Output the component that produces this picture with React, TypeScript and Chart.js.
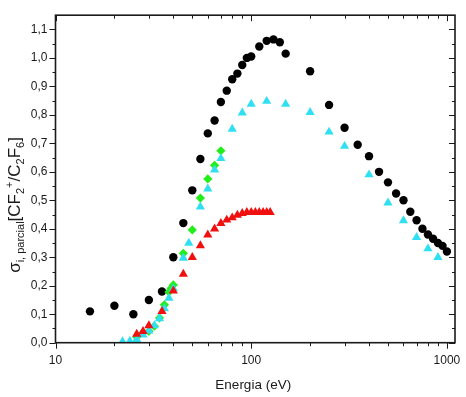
import { useEffect, useRef } from 'react';
import { Chart, registerables } from 'chart.js';

Chart.register(...registerables);

// Partial ionisation cross-section ratio CF2+ / C2F6 versus electron energy
const blackEnergy = [15, 20, 25, 30, 35, 40, 45, 50, 55, 60, 65, 70, 75, 80, 85, 90, 95, 100, 110, 120, 130, 140, 150, 200, 250, 300, 350, 400, 450, 500, 550, 600, 650, 700, 750, 800, 850, 900, 950, 1000];
const blackValue = [0.11, 0.13, 0.10, 0.15, 0.18, 0.30, 0.42, 0.535, 0.645, 0.735, 0.78, 0.845, 0.885, 0.925, 0.945, 0.975, 1.0, 1.005, 1.04, 1.06, 1.065, 1.055, 1.015, 0.953, 0.835, 0.755, 0.695, 0.655, 0.60, 0.563, 0.524, 0.50, 0.46, 0.43, 0.40, 0.38, 0.365, 0.35, 0.34, 0.32];

const cyanEnergy = [22, 24, 26, 28, 30, 32, 34, 36, 38, 40, 45, 48, 55, 60, 65, 70, 80, 90, 100, 120, 150, 200, 250, 300, 400, 500, 600, 700, 800, 900];
const cyanValue = [0.004, 0.006, 0.012, 0.028, 0.042, 0.06, 0.085, 0.12, 0.157, 0.19, 0.297, 0.35, 0.477, 0.54, 0.607, 0.647, 0.75, 0.807, 0.838, 0.848, 0.838, 0.809, 0.74, 0.69, 0.59, 0.491, 0.429, 0.37, 0.33, 0.30];

const greenEnergy = [26, 28, 30, 32, 34, 36, 38, 39, 40, 45, 50, 55, 60, 65, 70];
const greenValue = [0.02, 0.035, 0.04, 0.058, 0.087, 0.133, 0.178, 0.191, 0.203, 0.314, 0.396, 0.508, 0.575, 0.623, 0.674];

const redEnergy = [26, 28, 30, 35, 40, 45, 50, 55, 60, 65, 70, 75, 80, 85, 90, 95, 100, 105, 110, 115, 120, 125];
const redValue = [0.03, 0.04, 0.06, 0.11, 0.182, 0.241, 0.30, 0.341, 0.379, 0.40, 0.419, 0.431, 0.439, 0.448, 0.454, 0.458, 0.458, 0.458, 0.458, 0.458, 0.458, 0.458];

const xLabels = [10, 100, 1000];
const xTitle = 'Energia (eV)';

const FONT = "'Liberation Sans', Arial, sans-serif";

const toPoints = (xs: number[], ys: number[]) => xs.map((x, i) => ({ x, y: ys[i] }));

// Box frame plus Origin-style tick marks (outward on bottom/left, inward on top/right)
const frameTicks = {
  id: 'frameTicks',
  afterDatasetsDraw(chart: any) {
    const { ctx, chartArea: a, scales } = chart;
    const xs = scales.x;
    const ys = scales.y;
    ctx.save();
    ctx.strokeStyle = '#1a1a1a';
    ctx.lineWidth = 1;
    ctx.beginPath();
    for (const t of xs.ticks) {
      const v = t.value;
      const p = Math.pow(10, Math.floor(Math.log10(v) + 1e-9));
      const m = v / p;
      if (Math.abs(m - Math.round(m)) > 1e-6 || v > 1000.0001) continue;
      const major = Math.abs(m - 1) < 1e-6;
      const len = major ? 6 : 3.5;
      const px = Math.round(xs.getPixelForValue(v)) + 0.5;
      ctx.moveTo(px, a.bottom);
      ctx.lineTo(px, a.bottom + len);
      ctx.moveTo(px, a.top);
      ctx.lineTo(px, a.top + len);
    }
    for (const t of ys.ticks) {
      const v = t.value;
      const k = Math.round(v * 100);
      if (k > 110) continue;
      const major = k % 10 === 0;
      const len = major ? 6 : 3;
      const py = Math.round(ys.getPixelForValue(v)) + 0.5;
      ctx.moveTo(a.left - len, py);
      ctx.lineTo(a.left, py);
      ctx.moveTo(a.right - len, py);
      ctx.lineTo(a.right, py);
    }
    ctx.stroke();
    ctx.lineWidth = 1.6;
    ctx.strokeRect(a.left, a.top, a.right - a.left, a.bottom - a.top);
    ctx.restore();
  },
};

// Axis titles: plain x title and a rotated y title with sub- and superscripts
const axisTitles = {
  id: 'axisTitles',
  afterDraw(chart: any) {
    const { ctx, chartArea: a } = chart;
    ctx.save();
    ctx.fillStyle = '#1a1a1a';
    ctx.font = `13.5px ${FONT}`;
    ctx.textAlign = 'center';
    ctx.textBaseline = 'middle';
    ctx.fillText(xTitle, (a.left + a.right) / 2 - 2, 385);
    ctx.restore();

    const big = 17;
    const small = 11;
    const parts = [
      { t: 'σ', s: big, dy: 0 },
      { t: 'i, parcial', s: small, dy: 4 },
      { t: '[CF', s: big, dy: 0 },
      { t: '2', s: small, dy: 4 },
      { t: '+', s: small, dy: -7 },
      { t: '/C', s: big, dy: 0 },
      { t: '2', s: small, dy: 4 },
      { t: 'F', s: big, dy: 0 },
      { t: '6', s: small, dy: 4 },
      { t: ']', s: big, dy: 0 },
    ];
    ctx.save();
    let total = 0;
    for (const p of parts) {
      ctx.font = `${p.s}px ${FONT}`;
      total += ctx.measureText(p.t).width;
    }
    ctx.translate(19.5, 205);
    ctx.rotate(-Math.PI / 2);
    ctx.fillStyle = '#1a1a1a';
    ctx.textBaseline = 'alphabetic';
    ctx.textAlign = 'left';
    let x = -total / 2;
    for (const p of parts) {
      ctx.font = `${p.s}px ${FONT}`;
      ctx.fillText(p.t, x, p.dy);
      x += ctx.measureText(p.t).width;
    }
    ctx.restore();
  },
};

export default function App() {
  const canvasRef = useRef<HTMLCanvasElement | null>(null);

  useEffect(() => {
    const canvas = canvasRef.current;
    if (!canvas) return;
    const W = 466;
    const H = 397;
    const plotLeft = 55.5;
    const plotRight = 460.7;
    const plotTop = 9.3;
    const plotBottom = 342.7;

    const chart = new Chart(canvas, {
      type: 'scatter',
      data: {
        datasets: [
          {
            label: 'red',
            data: toPoints(redEnergy, redValue),
            pointStyle: 'triangle',
            pointRadius: 5.3,
            backgroundColor: '#f01010',
            borderWidth: 0,
            order: 0,
          },
          {
            label: 'cyan',
            data: toPoints(cyanEnergy, cyanValue),
            pointStyle: 'triangle',
            pointRadius: 5.3,
            backgroundColor: '#30e0f2',
            borderWidth: 0,
            order: 1,
          },
          {
            label: 'green',
            data: toPoints(greenEnergy, greenValue),
            pointStyle: 'rectRot',
            pointRadius: 4.6,
            backgroundColor: '#22ee1a',
            borderWidth: 0,
            order: 2,
          },
          {
            label: 'black',
            data: toPoints(blackEnergy, blackValue),
            pointStyle: 'circle',
            pointRadius: 4.2,
            backgroundColor: '#000000',
            borderWidth: 0,
            order: 3,
          },
        ],
      },
      options: {
        animation: false,
        responsive: false,
        devicePixelRatio: 1,
        events: [],
        layout: { padding: { top: plotTop, right: W - plotRight, left: 0, bottom: 0 } },
        plugins: { legend: { display: false }, tooltip: { enabled: false } },
        scales: {
          x: {
            type: 'logarithmic',
            position: 'bottom',
            min: 10,
            max: 1100,
            grid: { display: false, drawTicks: false },
            border: { display: false },
            ticks: {
              autoSkip: false,
              maxRotation: 0,
              padding: 11,
              color: '#1a1a1a',
              font: { family: FONT, size: 12 },
              callback: (v: any) => (xLabels.includes(Number(v)) ? String(v) : ''),
            },
            title: { display: false },
            afterFit: (s: any) => {
              s.height = H - plotBottom;
            },
          },
          y: {
            type: 'linear',
            position: 'left',
            min: 0,
            max: 1.15,
            grid: { display: false, drawTicks: false },
            border: { display: false },
            ticks: {
              stepSize: 0.05,
              autoSkip: false,
              padding: 8,
              color: '#1a1a1a',
              font: { family: FONT, size: 12 },
              callback: (v: any) => {
                const k = Math.round(Number(v) * 100);
                if (k % 10 !== 0 || k > 110) return '';
                return (k / 100).toFixed(1).replace('.', ',');
              },
            },
            afterFit: (s: any) => {
              s.width = plotLeft;
            },
          },
        },
      },
      plugins: [frameTicks, axisTitles],
    });

    return () => chart.destroy();
  }, []);

  return (
    <div style={{ position: 'fixed', left: 0, top: 0, width: 466, height: 397, background: '#fff' }}>
      <canvas ref={canvasRef} width={466} height={397} style={{ display: 'block' }} />
    </div>
  );
}
